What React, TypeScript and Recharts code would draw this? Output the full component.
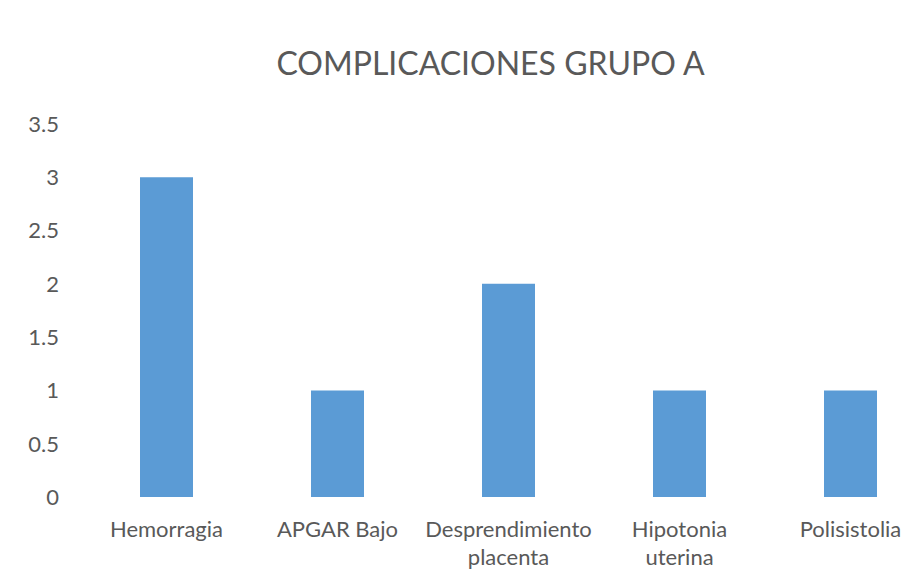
import { BarChart, Bar, XAxis, YAxis } from 'recharts'

const CATEGORIES = ['Hemorragia', 'APGAR Bajo', 'Desprendimiento\nplacenta', 'Hipotonia\nuterina', 'Polisistolia']
const VALUES = [3, 1, 2, 1, 1]
const Y_TICKS = [0, 0.5, 1, 1.5, 2, 2.5, 3, 3.5]

const BLUE = '#5B9BD5'
const TEXT = '#595959'
const FONT = 'Lato, "Open Sans", sans-serif'

const data = CATEGORIES.map((name, i) => ({ name, value: VALUES[i] }))

function CategoryTick({ x, y, payload }: any) {
  const lines = String(payload.value).split('\n')
  return (
    <text x={x} y={y} textAnchor="middle" fill={TEXT} fontSize={22} fontFamily={FONT}>
      {lines.map((l, i) => (
        <tspan key={i} x={x} dy={i === 0 ? 0 : 28}>
          {l}
        </tspan>
      ))}
    </text>
  )
}

export default function App() {
  return (
    <div style={{ position: 'fixed', left: 0, top: 0, width: 903, height: 571, overflow: 'hidden', background: '#fff' }}>
      <div
        style={{
          position: 'absolute',
          left: 0,
          width: 981,
          top: 42,
          textAlign: 'center',
          fontFamily: FONT,
          fontSize: 32,
          color: TEXT,
          lineHeight: '42px',
        }}
      >
        COMPLICACIONES GRUPO A
      </div>
      <div style={{ position: 'absolute', left: 0, top: 0 }}>
        <BarChart
          width={936}
          height={571}
          data={data}
          margin={{ top: 124, right: 0, bottom: 0, left: 0 }}
          style={{ overflow: 'visible' }}
        >
          <XAxis
            dataKey="name"
            axisLine={false}
            tickLine={false}
            tickSize={0}
            height={74}
            interval={0}
            tick={(props: any) => <CategoryTick {...props} y={props.y + 38} />}
          />
          <YAxis
            width={81}
            domain={[0, 3.5]}
            ticks={Y_TICKS}
            axisLine={false}
            tickLine={false}
            tickSize={0}
            tickMargin={22}
            tick={{ fill: TEXT, fontSize: 22, fontFamily: FONT }}
          />
          <Bar dataKey="value" fill={BLUE} barSize={53} isAnimationActive={false} />
        </BarChart>
      </div>
    </div>
  )
}
